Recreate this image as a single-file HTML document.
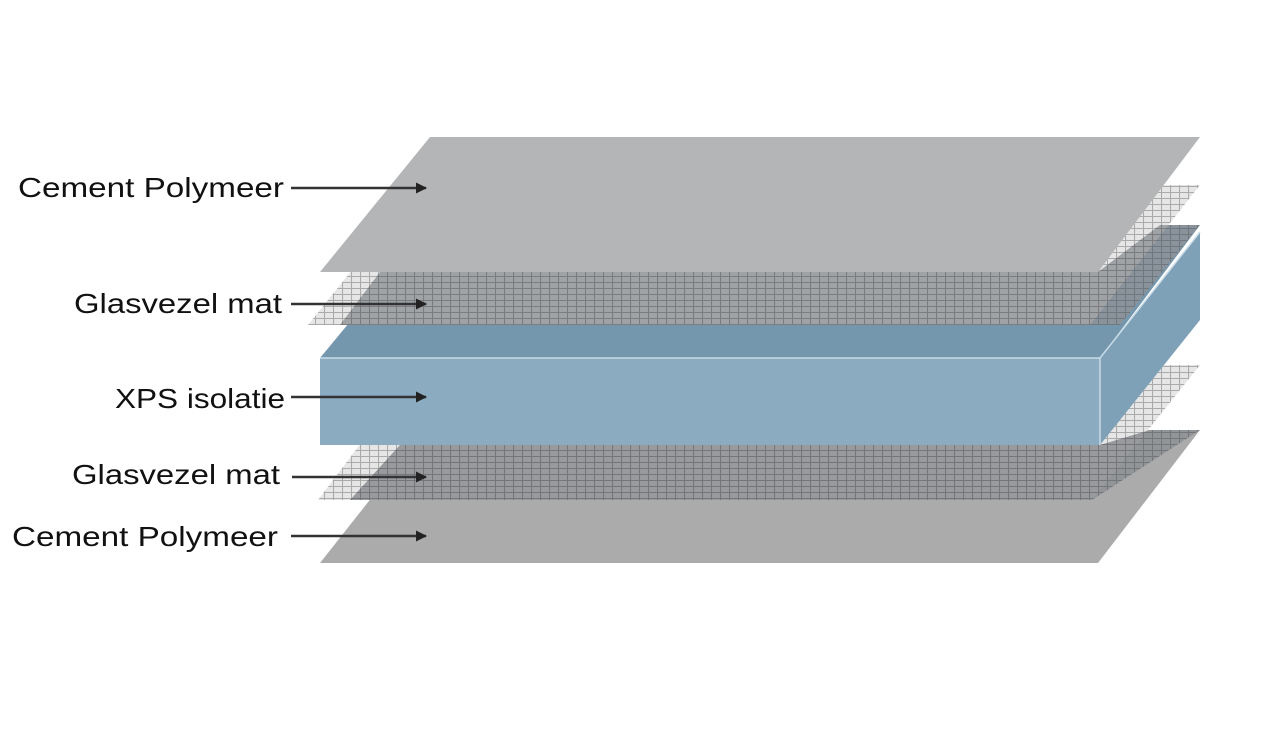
<!DOCTYPE html>
<html><head><meta charset="utf-8"><style>html,body{margin:0;padding:0;background:#fff}svg{display:block}</style></head>
<body>
<svg width="1280" height="729" viewBox="0 0 1280 729" xmlns="http://www.w3.org/2000/svg">
<defs>
<pattern id="mesh" width="9" height="6" patternUnits="userSpaceOnUse">
<rect width="9" height="6" fill="#8f9296"/>
<path d="M0 0.5H9M0.5 0V6" stroke="#6e7074" stroke-width="1.1"/>
</pattern>
<pattern id="meshL" width="9" height="6" patternUnits="userSpaceOnUse">
<rect width="9" height="6" fill="#e6e6e6"/>
<path d="M0 0.5H9M0.5 0V6" stroke="#aaaaaa" stroke-width="1.1"/>
</pattern>
<marker id="ar" markerWidth="11" markerHeight="11" refX="10" refY="5.5" orient="auto" markerUnits="userSpaceOnUse"><path d="M0 0L11 5.5L0 11z" fill="#222"/></marker>
</defs>
<!-- lower sheet -->
<polygon points="425,430 1200,430 1098,563 320,563" fill="#ababab"/>
<!-- lower mesh -->
<polygon points="420,365 1200,365 1092,500 318,500" fill="url(#meshL)"/>
<polygon points="400,445 1100,445 1150,430 1200,430 1092,500 350,500" fill="url(#mesh)" opacity="0.9"/>
<!-- XPS box -->
<polygon points="430,225 1200,225 1100,358 320,358" fill="#7597ad"/>
<polygon points="1100,358 1200,232 1200,320 1100,445" fill="#7ea1b8"/>
<polygon points="320,358 1100,358 1100,445 320,445" fill="#8aabc0"/>
<path d="M320,358H1100L1200,232M1100,358V445" stroke="#c8dbe6" stroke-width="1.5" fill="none"/>
<!-- upper mesh -->
<polygon points="420,185 1200,185 1090,325 308,325" fill="url(#meshL)"/>
<polygon points="380,272 1098,272 1160,225 1200,225 1120,325 1090,325 340,325" fill="url(#mesh)" opacity="0.8"/>
<!-- top sheet -->
<polygon points="430,137 1200,137 1098,272 320,272" fill="#b4b5b7"/>
<!-- labels -->
<g font-family="Liberation Sans, sans-serif" font-size="28" fill="#111" text-anchor="end">
<text x="284" y="197" textLength="266" lengthAdjust="spacingAndGlyphs">Cement Polymeer</text>
<text x="282" y="313" textLength="208" lengthAdjust="spacingAndGlyphs">Glasvezel mat</text>
<text x="285" y="408" textLength="170" lengthAdjust="spacingAndGlyphs">XPS isolatie</text>
<text x="280" y="484" textLength="208" lengthAdjust="spacingAndGlyphs">Glasvezel mat</text>
<text x="278" y="546" textLength="266" lengthAdjust="spacingAndGlyphs">Cement Polymeer</text>
</g>
<g stroke="#333" stroke-width="2.5" marker-end="url(#ar)">
<line x1="291" y1="188" x2="426" y2="188"/>
<line x1="291" y1="304" x2="426" y2="304"/>
<line x1="291" y1="397" x2="426" y2="397"/>
<line x1="292" y1="477" x2="426" y2="477"/>
<line x1="291" y1="536" x2="426" y2="536"/>
</g>
</svg>
</body></html>
